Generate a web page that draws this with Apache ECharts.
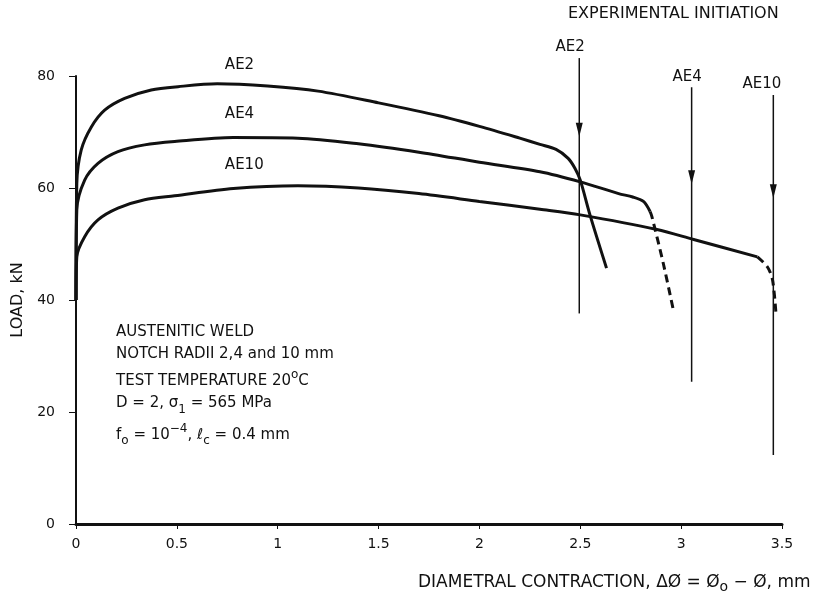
<!DOCTYPE html>
<html>
<head>
<meta charset="utf-8">
<script src="https://cdn.jsdelivr.net/npm/echarts@6/dist/echarts.min.js"></script>
<style>
  html, body { margin: 0; padding: 0; background: #fff; }
  #loadChart { width: 818px; height: 605px; }
</style>
</head>
<body>
<div id="loadChart"></div>
<script>
// load vs diametral contraction
const ae2X = [0, 0.004, 0.026, 0.076, 0.142, 0.241, 0.373, 0.506, 0.7, 0.95, 1.2, 1.5, 1.8, 2.0, 2.2, 2.3, 2.38, 2.44, 2.474, 2.5, 2.548, 2.63];
const ae2Y = [40, 60.8, 66.8, 70.9, 73.9, 76.0, 77.5, 78.1, 78.6, 78.2, 77.3, 75.2, 72.9, 71.0, 68.9, 67.8, 66.9, 65.3, 63.5, 61.4, 55.2, 45.7];

const ae4X = [0, 0.004, 0.043, 0.109, 0.208, 0.34, 0.489, 0.78, 1.1, 1.4, 1.7, 2.0, 2.3, 2.5, 2.69, 2.76, 2.813, 2.846];
const ae4Y = [40, 56.1, 61.4, 64.4, 66.5, 67.7, 68.3, 69.0, 68.9, 67.9, 66.4, 64.6, 62.9, 61.1, 59.0, 58.4, 57.6, 55.8];
const ae4DashX = [2.846, 2.855, 2.913, 2.963];
const ae4DashY = [55.8, 54.9, 46.3, 37.9];

const ae10X = [0, 0.004, 0.043, 0.109, 0.208, 0.34, 0.489, 0.78, 1.1, 1.4, 1.7, 2.0, 2.3, 2.5, 2.88, 3.062, 3.378];
const ae10Y = [40, 47.7, 51.3, 54.3, 56.4, 57.9, 58.6, 59.9, 60.4, 60.0, 59.0, 57.6, 56.2, 55.2, 52.6, 50.8, 47.7];
const ae10DashX = [3.378, 3.428, 3.453, 3.47];
const ae10DashY = [47.7, 45.9, 43.6, 37.6];

// experimental initiation arrows
const arrowNames = ['AE2', 'AE4', 'AE10'];
const arrowX = [2.495, 3.052, 3.457];
const arrowTop = [83.2, 78.0, 76.6];
const arrowBottom = [37.6, 25.4, 12.3];
const arrowHead = [70.4, 61.9, 59.4];
const arrowLabelX = [2.45, 3.03, 3.40];
const arrowLabelY = [85.2, 79.8, 78.6];

// curve labels
const curveNames = ['AE2', 'AE4', 'AE10'];
const curveLabelX = [0.738, 0.738, 0.738];
const curveLabelY = [81.9, 73.2, 64.0];

const xTicks = [0, 3.5, 0.5];
const yTicks = [0, 80, 20];

const font = 'DejaVu Sans, sans-serif';
const ink = '#111';

function pairs(xs, ys) {
  return xs.map((x, i) => [x, ys[i]]);
}

let chartContainer = document.getElementById('loadChart');
let myChart = echarts.init(chartContainer);

let curve = function (xs, ys, dashed) {
  return {
    type: 'line',
    data: pairs(xs, ys),
    smooth: 0.3,
    showSymbol: false,
    clip: false,
    silent: true,
    lineStyle: { color: ink, width: 3, type: dashed ? [8, 5] : 'solid' },
  };
};

let series = [
  curve(ae2X, ae2Y, false),
  curve(ae4X, ae4Y, false),
  curve(ae4DashX, ae4DashY, true),
  curve(ae10X, ae10Y, false),
  curve(ae10DashX, ae10DashY, true),
];

arrowX.forEach((x, i) => {
  series.push({
    type: 'line',
    data: [[x, arrowTop[i]], [x, arrowBottom[i]]],
    showSymbol: false,
    clip: false,
    silent: true,
    lineStyle: { color: ink, width: 1.5 },
  });
});

series.push({
  type: 'scatter',
  data: arrowX.map((x, i) => [x, arrowHead[i]]),
  symbol: 'triangle',
  symbolRotate: 180,
  symbolSize: [7, 14],
  clip: false,
  silent: true,
  itemStyle: { color: ink, opacity: 1 },
});

let textLabels = function (xs, ys, names, align) {
  return {
    type: 'scatter',
    data: xs.map((x, i) => ({ value: [x, ys[i]], name: names[i] })),
    symbolSize: 0,
    clip: false,
    silent: true,
    itemStyle: { opacity: 1 },
    label: {
      show: true,
      position: 'inside',
      align: align,
      formatter: p => p.name,
      fontFamily: font,
      fontSize: 15,
      color: ink,
    },
  };
};
series.push(textLabels(curveLabelX, curveLabelY, curveNames, 'left'));
series.push(textLabels(arrowLabelX, arrowLabelY, arrowNames, 'center'));

let makeRich = function (size) {
  return {
    n: { fontFamily: font, fontSize: size, color: ink, lineHeight: 24 },
    sub: { fontFamily: font, fontSize: size - 3, color: ink, lineHeight: 11, verticalAlign: 'bottom' },
    sup: { fontFamily: font, fontSize: size - 3, color: ink, lineHeight: 11, verticalAlign: 'top' },
  };
};

let note = function (y, text) {
  return {
    type: 'text',
    left: 116,
    top: y - 12,
    silent: true,
    style: { text: text, rich: makeRich(15), fontFamily: font, fontSize: 15, fill: ink },
  };
};

let option = {
  animation: false,
  backgroundColor: '#fff',
  grid: { left: 76, right: 36, top: 76, bottom: 81, containLabel: false },
  xAxis: {
    type: 'value',
    min: xTicks[0],
    max: xTicks[1],
    interval: xTicks[2],
    axisLine: { show: true, lineStyle: { color: ink, width: 3 } },
    axisTick: { show: true, length: 5, lineStyle: { color: ink, width: 1 } },
    axisLabel: { margin: 13, fontFamily: font, fontSize: 14, color: ink },
    splitLine: { show: false },
  },
  yAxis: {
    type: 'value',
    min: yTicks[0],
    max: yTicks[1],
    interval: yTicks[2],
    name: 'LOAD, kN',
    nameLocation: 'middle',
    nameRotate: 90,
    nameGap: 46,
    nameTextStyle: { fontFamily: font, fontSize: 16, color: ink },
    axisLine: { show: true, lineStyle: { color: ink, width: 2 } },
    axisTick: { show: true, length: 7, lineStyle: { color: ink, width: 1 } },
    axisLabel: { margin: 21, fontFamily: font, fontSize: 14, color: ink },
    splitLine: { show: false },
  },
  graphic: [
    {
      type: 'text', left: 568, top: 6, silent: true,
      style: { text: 'EXPERIMENTAL INITIATION', fontFamily: font, fontSize: 16, fill: ink },
    },
    {
      type: 'text', left: 418, top: 574, silent: true,
      style: {
        text: '{n|DIAMETRAL CONTRACTION, ΔØ = Ø}{sub|o}{n| − Ø, mm}',
        rich: makeRich(17), fontFamily: font, fontSize: 17, fill: ink,
      },
    },
    note(337, '{n|AUSTENITIC WELD}'),
    note(359, '{n|NOTCH RADII 2,4 and 10 mm}'),
    note(381, '{n|TEST TEMPERATURE 20}{sup|o}{n|C}'),
    note(408, '{n|D = 2, σ}{sub|1}{n| = 565 MPa}'),
    note(435, '{n|f}{sub|o}{n| = 10}{sup|−4}{n|, ℓ}{sub|c}{n| = 0.4 mm}'),
  ],
  series: series,
};

myChart.setOption(option);
</script>
</body>
</html>
